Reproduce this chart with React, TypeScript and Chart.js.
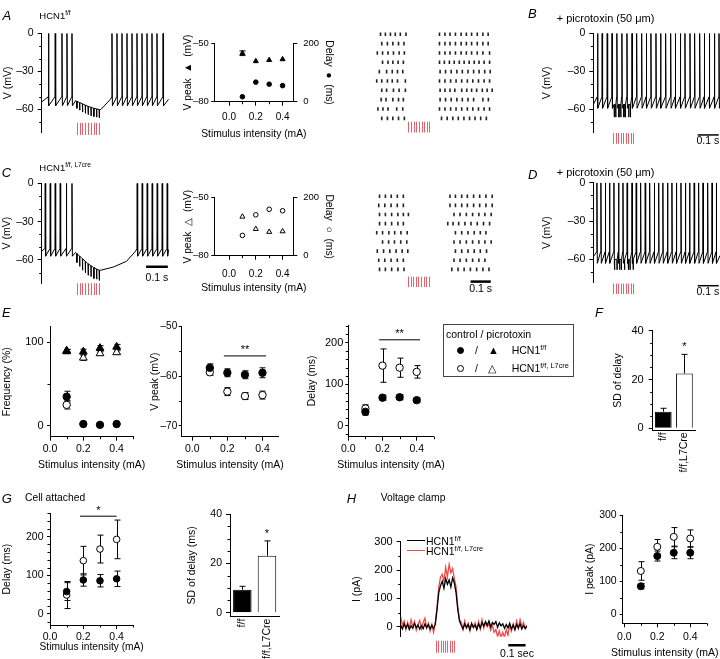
import React, { useEffect, useRef } from "react";
import { Chart, registerables } from "chart.js";

Chart.register(...registerables);

const FONT = "'Liberation Sans', Arial, Helvetica, sans-serif";
const FS = 10.5;
Chart.defaults.font.family = FONT;
Chart.defaults.font.size = FS;
Chart.defaults.color = "#000";

// ======================= DATA =======================
const STIM_I = [0.1, 0.2, 0.3, 0.4]; // stimulus intensity (mA)
const X_MAJOR = [0, 0.2, 0.4];
const X_MINOR = [0.1, 0.3, 0.5];

// --- A: HCN1 f/f current-clamp trace (ms, mV)
const A_PRE = [30, 61, 92, 115, 138];
const A_POST = [322, 345, 368, 391, 414, 437, 460, 483, 506, 529, 557];
const A_PULSE = [161, 174, 187, 200, 213, 226, 239, 252, 264];
const A_PULSE_BASE = [-53.5, -54.5, -55.5, -56.5, -57.5, -58.2, -59, -59.5, -60];
const A_PULSE_TIP = [-59, -60.5, -62, -63, -64, -65, -65.5, -66, -66.5];
const A_KNOT_T = [0, 156, 272, 316, 583];
const A_KNOT_V = [-54, -53, -60, -52, -52];

// --- C: HCN1 f/f, L7cre trace
const C_PRE = [15, 38, 61, 84, 112, 138];
const C_POST = [438, 461, 484, 507, 530, 553, 576];
const C_PULSE = [161, 174, 187, 200, 213, 226, 239, 252, 264];
const C_PULSE_BASE = [-55, -57, -59, -61, -63, -64.5, -66, -67, -68];
const C_PULSE_TIP = [-62, -65, -68, -70, -72, -73, -74.5, -75, -76];
const C_KNOT_T = [0, 156, 272, 330, 390, 432, 583];
const C_KNOT_V = [-53, -54, -68, -65.5, -61, -53, -52];

// --- B / D: + picrotoxin traces
const B_SPIKES = [19, 41, 65, 88, 111, 135, 159, 183, 205, 229, 251, 273, 297, 319, 343, 367, 389, 413, 435, 459, 481, 505, 527, 551, 575, 597];
const B_PULSE = [99, 106, 121, 130, 145, 152, 168, 176];
const B_KNOT_T = [0, 603];
const B_KNOT_V = [-56, -55];
const D_SPIKES = [16, 35, 56, 76, 97, 119, 140, 160, 183, 203, 224, 246, 267, 289, 310, 330, 352, 373, 394, 416, 437, 457, 479, 500, 521, 543, 564, 584];
const D_PULSE = [101, 112, 125, 133, 148, 166, 174, 189];
const D_KNOT_T = [0, 603];
const D_KNOT_V = [-58, -57];
const PTX_STIM = [95, 107, 119, 131, 143, 155, 167, 179, 190];

// --- rasters (spike times in ms per trial)
const RA_ROWS = [
  [74, 98, 123, 147, 172, 200, 366, 393, 418, 445, 473, 499, 525, 553, 581, 607],
  [80, 108, 135, 163, 190, 366, 393, 418, 445, 473, 499, 525, 553, 581, 607],
  [58, 84, 111, 138, 166, 192, 366, 393, 418, 445, 473, 499, 525, 553, 581, 614],
  [84, 111, 135, 161, 187, 366, 390, 415, 439, 464, 488, 513, 538, 562, 587, 614],
  [68, 104, 132, 158, 184, 369, 396, 424, 452, 479, 507, 535, 562, 590, 617],
  [55, 80, 108, 132, 158, 197, 366, 393, 421, 448, 476, 504, 531, 559, 587, 614],
  [80, 104, 138, 166, 197, 369, 393, 418, 442, 476, 501, 525, 550, 578, 602, 627],
  [77, 101, 135, 163, 187, 369, 396, 424, 452, 479, 507, 535, 581, 608],
  [61, 86, 111, 154, 184, 366, 393, 421, 448, 476, 504, 531, 559, 587, 614],
  [80, 108, 135, 163, 192, 376, 404, 432, 459, 487, 515, 542, 570, 598],
];
const RC_ROWS = [
  [69, 98, 127, 157, 187, 418, 445, 476, 504, 535, 565, 596, 627],
  [65, 95, 126, 157, 187, 418, 445, 476, 504, 535, 565, 596, 627],
  [69, 98, 129, 160, 187, 212, 438, 468, 499, 530, 561, 591, 622],
  [69, 98, 129, 160, 187, 407, 433, 461, 492, 522, 553, 584, 614],
  [55, 84, 115, 144, 175, 206, 445, 476, 507, 538, 568, 596],
  [84, 114, 143, 174, 204, 438, 468, 499, 530, 561, 591, 622],
  [58, 89, 120, 151, 181, 209, 445, 476, 507, 538, 568, 599],
  [65, 95, 126, 157, 187, 438, 468, 499, 530, 561, 591],
  [69, 98, 129, 160, 190, 427, 458, 488, 519, 550, 581, 611],
];
const RA_STIM = [212, 225, 238, 251, 264, 277, 290, 303, 315];
const RC_STIM = [210, 223, 236, 249, 262, 275, 288, 301, 314];

// --- A / C small scatter
const A_VPEAK = [-55.1, -59.2, -58.6, -58.2];
const A_VPEAK_ERR = [1.2, 0, 0, 0];
const A_DELAY = [17, 67, 60, 55];
const C_VPEAK = [-59.8, -66.2, -67.7, -67.4];
const C_DELAY = [70, 141, 160, 155];

// --- E
const E_FREQ_WT_CTRL = [34.8, 2, 1, 2];
const E_FREQ_WT_CTRL_ERR = [6.5, 0, 0, 0];
const E_FREQ_WT_PTX = [89, 88.7, 93, 94.5];
const E_FREQ_WT_PTX_ERR = [2.5, 3, 3, 3];
const E_FREQ_KO_CTRL_X = [0.1];
const E_FREQ_KO_CTRL = [25];
const E_FREQ_KO_CTRL_ERR = [5];
const E_FREQ_KO_PTX = [90, 81.4, 86.6, 87.8];
const E_FREQ_KO_PTX_ERR = [1.5, 3, 2, 2];
const E_VPEAK_WT = [-58.3, -59.3, -59.7, -59.3];
const E_VPEAK_WT_ERR = [0.8, 0.8, 0.8, 1.0];
const E_VPEAK_KO = [-59.2, -63.1, -64.0, -63.8];
const E_VPEAK_KO_ERR = [0.6, 0.8, 0.7, 0.8];
const E_DELAY_WT = [34, 68, 69, 62];
const E_DELAY_WT_ERR = [8, 6, 6, 5];
const E_DELAY_KO = [42, 145, 140, 130];
const E_DELAY_KO_ERR = [9, 40, 23, 15];

// --- F / G bars
const GROUPS = ["f/f", "f/f,L7Cre"];
const F_SD = [6.8, 22.5];
const F_SD_ERR = [1.4, 7.8];
const G_DELAY_WT = [58, 88, 86, 91];
const G_DELAY_WT_ERR = [23, 16, 16, 20];
const G_DELAY_KO = [49, 138, 168, 193];
const G_DELAY_KO_ERR = [35, 37, 36, 50];
const G_SD = [9.3, 23.1];
const G_SD_ERR = [1.4, 6];

// --- H voltage clamp (10 ms sampling, pA)
const H_DT = 10;
const H_BLACK = [5, -8, 10, -5, 8, -10, 3, -6, 12, -4, 6, -9, 4, -7, 10, -3, 7, -8, 5, -6, 8,
  60, 120, 145, 160, 135, 170, 150, 165, 140, 172, 155, 120, 60, 20,
  5, -8, 10, -4, 8, -10, 12, -3, 6, -9, 10, -5, 15, 2, 18, 5, 20, 0, 15, 8, 18, -2, 14, 3, 10, -6, 8, -4, 12, -8, 6, -10, 8, -5, 10, -8, 4, -6, 2];
const H_RED = [35, 5, 20, -10, 15, -5, 25, 0, 18, -12, 10, 22, -8, 15, 30, -5, 12, -15, 8, -20, 15,
  70, 140, 175, 185, 160, 210, 175, 220, 190, 205, 170, 140, 70, 25,
  15, -10, 20, -5, 12, -15, 8, 0, 14, -10, 18, -8, 25, -5, 15, 0, 10, -12, 5, -20, -10, -35, -15, -40, -20, -38, -10, -30, 5, -15, 10, -10, 20, -5, 25, 0, 15, -8, 5];
const H_STIM = [205, 218, 231, 244, 257, 270, 283, 296, 309];
const H_IPEAK_WT = [85, 176, 186, 186];
const H_IPEAK_WT_ERR = [8, 15, 18, 18];
const H_IPEAK_KO = [131, 204, 234, 229];
const H_IPEAK_KO_ERR = [28, 22, 28, 26];

// ======================= HELPERS =======================
const STIM_RED = "#e8606a";
const TRACE_RED = "#f04848";
const neg = (v: number) => (v < 0 ? "\u2013" + Math.abs(v) : String(v));
const fx1 = (v: number) => v.toFixed(1);

type P = { x: number; y: number };
function spikeVerts(times: number[], thr: number, ahp: number): P[] {
  const out: P[] = [];
  times.forEach((t) => out.push({ x: t, y: thr }, { x: t + 1.2, y: 0 }, { x: t + 3.2, y: ahp }));
  return out;
}
function pulseVerts(times: number[], base: number | number[], tip: number | number[]): P[] {
  const out: P[] = [];
  times.forEach((t, i) => {
    const b = Array.isArray(base) ? base[i] : base;
    const p = Array.isArray(tip) ? tip[i] : tip;
    out.push({ x: t, y: b }, { x: t + 0.8, y: p }, { x: t + 1.8, y: b });
  });
  return out;
}
const knots = (ts: number[], vs: number[]): P[] => ts.map((x, i) => ({ x, y: vs[i] }));
const join = (...g: P[][]) => g.flat().sort((a, b) => a.x - b.x);

const TRACE_A = join(spikeVerts(A_PRE, -50, -57), pulseVerts(A_PULSE, A_PULSE_BASE, A_PULSE_TIP), knots(A_KNOT_T, A_KNOT_V), spikeVerts(A_POST, -50, -57));
const TRACE_C = join(spikeVerts(C_PRE, -51, -57), pulseVerts(C_PULSE, C_PULSE_BASE, C_PULSE_TIP), knots(C_KNOT_T, C_KNOT_V), spikeVerts(C_POST, -51, -57));
const TRACE_B = join(spikeVerts(B_SPIKES, -50, -59), pulseVerts(B_PULSE, -56, -66), knots(B_KNOT_T, B_KNOT_V));
const TRACE_D = join(spikeVerts(D_SPIKES, -54, -63), pulseVerts(D_PULSE, -60, -68), knots(D_KNOT_T, D_KNOT_V));

function frame(f: any) {
  const p = { l: 0, t: 14, r: 10, b: 8, ...(f.pad || {}) };
  const yW = f.yW || 0, y2W = f.y2W || 0, xH = f.xH || 0;
  const left = Math.floor(f.area.l - yW - p.l);
  const top = Math.floor(f.area.t - p.t);
  const right = Math.ceil(f.area.r + y2W + p.r);
  const bottom = Math.ceil(f.area.b + xH + p.b);
  return {
    box: { left, top, width: right - left, height: bottom - top },
    padding: { left: f.area.l - yW - left, top: f.area.t - top, right: right - f.area.r - y2W, bottom: bottom - f.area.b - xH },
  };
}

function lin(o: any): any {
  if (o.hidden) return { type: "linear", display: false, min: o.min, max: o.max, reverse: !!o.reverse };
  const major: number[] = o.major || [];
  const fmt = o.fmt || neg;
  return {
    type: "linear",
    position: o.pos,
    min: o.min,
    max: o.max,
    afterBuildTicks: (s: any) => { s.ticks = major.map((v) => ({ value: v })); },
    afterFit: (s: any) => {
      s.$title = o.title || "";
      s.$pos = o.pos;
      s.$ts = o.ts ?? FS;
      if (o.size != null) { if (o.pos === "bottom") s.height = o.size; else s.width = o.size; }
    },
    ticks: { color: "#000", font: { family: FONT, size: o.fs ?? FS }, padding: o.pad ?? 3, autoSkip: false, maxRotation: 0, minRotation: 0, callback: (v: any) => fmt(Number(v)) },
    grid: { display: true, drawOnChartArea: false, drawTicks: true, tickLength: o.tl ?? 4, tickWidth: 1, tickColor: "#000", color: "#000", lineWidth: 1 },
    border: { display: true, color: "#000", width: 1 },
    title: { display: false },
  };
}

function catAxis(size: number) {
  return {
    type: "category",
    position: "bottom",
    afterFit: (s: any) => { s.height = size; },
    grid: { display: false, drawTicks: false },
    border: { display: true, color: "#000", width: 1 },
    ticks: { minRotation: 90, maxRotation: 90, padding: 2, autoSkip: false, color: "#000", font: { family: FONT, size: FS } },
  };
}

function drawItems(chart: any, list: any[]) {
  const ctx = chart.ctx;
  list.forEach((it) => {
    const xs = chart.scales[it.xid || "x"];
    const ys = chart.scales[it.yid || "y"];
    const X = (v: number) => xs.getPixelForValue(v);
    const Y = (v: number) => ys.getPixelForValue(v);
    ctx.save();
    ctx.strokeStyle = it.color || "#000";
    ctx.fillStyle = it.color || "#000";
    ctx.lineWidth = it.w || 1;
    if (it.k === "err") {
      it.xs.forEach((x: number, i: number) => {
        const e = it.es[i];
        if (!e) return;
        const px = Math.round(X(x)) + 0.5;
        const y0 = Y(it.ys[i]);
        const yt = Y(it.ys[i] + e);
        const yb = it.up ? y0 : Y(it.ys[i] - e);
        const c = it.cap ?? 3;
        ctx.beginPath();
        ctx.moveTo(px, yb); ctx.lineTo(px, yt);
        ctx.moveTo(px - c, yt); ctx.lineTo(px + c, yt);
        if (!it.up) { ctx.moveTo(px - c, yb); ctx.lineTo(px + c, yb); }
        ctx.stroke();
      });
    } else if (it.k === "line") {
      ctx.beginPath();
      ctx.moveTo(X(it.x1), Y(it.y1));
      ctx.lineTo(X(it.x2), Y(it.y2));
      ctx.stroke();
    } else if (it.k === "vl") {
      ctx.beginPath();
      it.xs.forEach((x: number) => {
        const p = Math.round(X(x)) + 0.5;
        ctx.moveTo(p, Y(it.y1)); ctx.lineTo(p, Y(it.y2));
      });
      ctx.stroke();
    } else if (it.k === "text") {
      ctx.font = `${it.size || FS}px ${FONT}`;
      ctx.textAlign = it.align || "center";
      ctx.textBaseline = "middle";
      ctx.fillText(it.s, X(it.x), Y(it.y));
    }
    ctx.restore();
  });
}

function drawMinor(chart: any, list: any[]) {
  const ctx = chart.ctx;
  ctx.save();
  ctx.strokeStyle = "#000";
  ctx.lineWidth = 1;
  list.forEach((m) => {
    const s = chart.scales[m.id];
    const len = m.len ?? 2.5;
    m.values.forEach((v: number) => {
      const p = Math.round(s.getPixelForValue(v)) + 0.5;
      ctx.beginPath();
      if (m.side === "left") { ctx.moveTo(s.right - len, p); ctx.lineTo(s.right, p); }
      else if (m.side === "right") { ctx.moveTo(s.left, p); ctx.lineTo(s.left + len, p); }
      else { ctx.moveTo(p, s.top); ctx.lineTo(p, s.top + len); }
      ctx.stroke();
    });
  });
  ctx.restore();
}

// axis titles drawn without Chart.js' width compression
function drawTitles(chart: any) {
  const ctx = chart.ctx;
  const ca = chart.chartArea;
  Object.values(chart.scales).forEach((s: any) => {
    if (!s.$title) return;
    const ts = s.$ts || FS;
    const lh = ts * 1.2;
    ctx.save();
    ctx.fillStyle = "#000";
    ctx.font = `${ts}px ${FONT}`;
    ctx.textAlign = "center";
    ctx.textBaseline = "middle";
    if (s.$pos === "bottom") {
      ctx.fillText(s.$title, (ca.left + ca.right) / 2, s.bottom - lh / 2);
    } else if (s.$pos === "left") {
      ctx.translate(s.left + lh / 2, (ca.top + ca.bottom) / 2);
      ctx.rotate(-Math.PI / 2);
      ctx.fillText(s.$title, 0, 0);
    } else {
      ctx.translate(s.right - lh / 2, (ca.top + ca.bottom) / 2);
      ctx.rotate(Math.PI / 2);
      ctx.fillText(s.$title, 0, 0);
    }
    ctx.restore();
  });
}

function extras(items: any) {
  return {
    id: "extras",
    beforeDatasetsDraw(chart: any) { drawItems(chart, items.before || []); },
    afterDatasetsDraw(chart: any) { drawItems(chart, items.after || []); },
    afterDraw(chart: any) { drawMinor(chart, items.minor || []); drawTitles(chart); },
  };
}

function base(padding: any, scales: any) {
  return {
    responsive: false,
    animation: false,
    devicePixelRatio: 1,
    events: [],
    layout: { padding },
    plugins: { legend: { display: false }, tooltip: { enabled: false } },
    scales,
  };
}

const lineDs = (data: P[], color: string, w: number) => ({
  data, borderColor: color, borderWidth: w, pointRadius: 0, tension: 0, fill: false,
});

function mk(xs: number[], ys: number[], style: string, filled: boolean, r: number, yAxisID = "y") {
  const fill = filled ? "#000" : "#fff";
  return {
    data: xs.map((x, i) => ({ x, y: ys[i] })),
    yAxisID, showLine: false,
    pointStyle: style, pointRadius: r, pointHoverRadius: r,
    pointBackgroundColor: fill, pointBorderColor: "#000", pointBorderWidth: 1,
    backgroundColor: fill, borderColor: "#000", borderWidth: 1,
  };
}

const err = (xs: number[], ys: number[], es: number[], yid = "y", up = false) => ({ k: "err", xs, ys, es, yid, up, cap: 3 });

function traceCfg(p: any, o: any) {
  return {
    type: "line",
    data: { datasets: o.datasets },
    options: base(p, {
      x: lin({ hidden: true, min: 0, max: o.xMax }),
      y: lin({ pos: "left", min: o.yMin ?? -78, max: o.yMax ?? 0, major: o.major ?? [0, -30, -60], size: o.yW, title: o.title ?? "V (mV)", tl: 4, pad: 4, fs: o.fs ?? 10.5, ts: 10.5 }),
    }),
    plugins: [extras({ after: o.after || [], minor: [{ id: "y", side: "left", values: o.minor ?? [-10, -20, -40, -50, -70] }] })],
  };
}

function rasterPts(rows: number[][]) {
  const out: P[] = [];
  rows.forEach((r, i) => r.forEach((t) => out.push({ x: t, y: i + 1 })));
  return out;
}

function rasterCfg(p: any, rows: number[][], xMax: number, after: any[]) {
  return {
    type: "scatter",
    data: {
      datasets: [{
        data: rasterPts(rows), pointStyle: "line", pointRotation: 90, pointRadius: 1.8,
        pointBorderColor: "#222", pointBorderWidth: 1.6, pointBackgroundColor: "#222",
        borderColor: "#222", borderWidth: 1.6,
      }],
    },
    options: base(p, { x: lin({ hidden: true, min: 0, max: xMax }), y: lin({ hidden: true, min: 0.5, max: rows.length + 0.5, reverse: true }) }),
    plugins: [extras({ after })],
  };
}

function smallScatter(p: any, vpeak: number[], delay: number[], filled: boolean, vErr: number[] | null, titles: string[], xPad: number, xH: number) {
  return {
    type: "scatter",
    data: { datasets: [mk(STIM_I, vpeak, "triangle", filled, 2.9, "y"), mk(STIM_I, delay, "circle", filled, 2.3, "y2")] },
    options: base(p, {
      x: lin({ pos: "bottom", min: -0.11, max: 0.48, major: X_MAJOR, fmt: fx1, title: "Stimulus intensity (mA)", size: xH, tl: 4, pad: xPad, fs: 10, ts: 10.3 }),
      y: lin({ pos: "left", min: -80, max: -50, major: [-50, -80], title: titles[0], size: 32.6, tl: 3, pad: 2.5, fs: 9.5, ts: 10.3 }),
      y2: lin({ pos: "right", min: 0, max: 200, major: [0, 200], title: titles[1], size: 41.3, tl: 4, pad: 6, fs: 9.5, ts: 10.3 }),
    }),
    plugins: [extras({ before: vErr ? [err(STIM_I, vpeak, vErr, "y")] : [], minor: [{ id: "x", side: "bottom", values: [0.1, 0.3] }] })],
  };
}

const SPECS: any[] = [
  // ---------- A trace
  {
    frame: { area: { l: 41.7, t: 33.3, r: 170, b: 132.4 }, yW: 39.5, pad: { r: 2, b: 16 } },
    make: (p: any) => traceCfg(p, {
      datasets: [lineDs(TRACE_A, "#000", 1)], xMax: 590, yW: 39.5,
      after: [{ k: "vl", xs: A_PULSE, y1: -70.5, y2: -80, color: STIM_RED }],
    }),
  },
  // ---------- C trace
  {
    frame: { area: { l: 41.7, t: 183.3, r: 170, b: 283 }, yW: 40.7, pad: { r: 2, b: 16 } },
    make: (p: any) => traceCfg(p, {
      datasets: [lineDs(TRACE_C, "#000", 1)], xMax: 590, yW: 40.7,
      after: [
        { k: "vl", xs: C_PULSE, y1: -78.2, y2: -87.4, color: STIM_RED },
        { k: "line", x1: 480, y1: -65.3, x2: 580, y2: -65.3, w: 2.5 },
        { k: "text", x: 530, y: -74.5, s: "0.1 s" },
      ],
    }),
  },
  // ---------- B trace
  {
    frame: { area: { l: 593.3, t: 33.3, r: 720, b: 132.4 }, yW: 52.9, pad: { r: 0, b: 16 } },
    make: (p: any) => traceCfg(p, {
      datasets: [lineDs(TRACE_B, "#000", 1)], xMax: 603, yW: 52.9,
      after: [
        { k: "vl", xs: PTX_STIM, y1: -78.5, y2: -87, color: STIM_RED },
        { k: "line", x1: 497, y1: -80, x2: 597, y2: -80, w: 1.5 },
        { k: "text", x: 545, y: -85.2, s: "0.1 s" },
      ],
    }),
  },
  // ---------- D trace
  {
    frame: { area: { l: 593.3, t: 182.7, r: 720, b: 282.5 }, yW: 52.9, pad: { r: 0, b: 16 } },
    make: (p: any) => traceCfg(p, {
      datasets: [lineDs(TRACE_D, "#000", 1)], xMax: 603, yW: 52.9,
      after: [
        { k: "vl", xs: PTX_STIM, y1: -78.8, y2: -87, color: STIM_RED },
        { k: "line", x1: 497, y1: -80.5, x2: 597, y2: -80.5, w: 1.5 },
        { k: "text", x: 545, y: -85.6, s: "0.1 s" },
      ],
    }),
  },
  // ---------- A raster
  {
    frame: { area: { l: 360, t: 28.6, r: 520, b: 123 }, pad: { t: 4, r: 0, b: 14 } },
    make: (p: any) => rasterCfg(p, RA_ROWS, 737, [{ k: "vl", xs: RA_STIM, y1: 10.36, y2: 11.52, color: STIM_RED }]),
  },
  // ---------- C raster
  {
    frame: { area: { l: 360, t: 190.35, r: 520, b: 274 }, pad: { t: 4, r: 0, b: 22 } },
    make: (p: any) => rasterCfg(p, RC_ROWS, 737, [
      { k: "vl", xs: RC_STIM, y1: 9.79, y2: 10.93, color: STIM_RED },
      { k: "line", x1: 520, y1: 10.33, x2: 620, y2: 10.33, w: 2.5 },
      { k: "text", x: 570, y: 11.1, s: "0.1 s" },
    ]),
  },
  // ---------- A scatter
  {
    frame: { area: { l: 214.3, t: 43.3, r: 293.3, b: 101.7 }, yW: 32.6, y2W: 41.3, xH: 38.6, pad: { r: 3, b: 1 } },
    make: (p: any) => smallScatter(p, A_VPEAK, A_DELAY, true, A_VPEAK_ERR, ["V peak  \u25B2  (mV)", "Delay  \u25CF  (ms)"], 5.4, 38.6),
  },
  // ---------- C scatter
  {
    frame: { area: { l: 214.3, t: 197.7, r: 293.3, b: 255.7 }, yW: 32.6, y2W: 41.3, xH: 38.3, pad: { r: 3, b: 1 } },
    make: (p: any) => smallScatter(p, C_VPEAK, C_DELAY, false, null, ["V peak  \u25B3  (mV)", "Delay  \u25CB  (ms)"], 9, 38.3),
  },
  // ---------- E1 frequency
  {
    frame: { area: { l: 50, t: 326.7, r: 133.3, b: 436.7 }, yW: 49, xH: 34.6, pad: { r: 12, b: 1 } },
    make: (p: any) => ({
      type: "scatter",
      data: {
        datasets: [
          mk(STIM_I, E_FREQ_WT_PTX, "triangle", true, 4.5),
          mk(STIM_I, E_FREQ_KO_PTX, "triangle", false, 4.5),
          mk(STIM_I, E_FREQ_WT_CTRL, "circle", true, 3.7),
          mk(E_FREQ_KO_CTRL_X, E_FREQ_KO_CTRL, "circle", false, 3.7),
        ],
      },
      options: base(p, {
        x: lin({ pos: "bottom", min: 0, max: 0.5, major: X_MAJOR, fmt: fx1, title: "Stimulus intensity (mA)", size: 34.6, tl: 4, pad: 2 }),
        y: lin({ pos: "left", min: -13.2, max: 118.7, major: [0, 100], title: "Frequency (%)", size: 49, tl: 3, pad: 3.5, fs: 11 }),
      }),
      plugins: [extras({
        before: [err(STIM_I, E_FREQ_WT_PTX, E_FREQ_WT_PTX_ERR), err(STIM_I, E_FREQ_KO_PTX, E_FREQ_KO_PTX_ERR), err(STIM_I, E_FREQ_WT_CTRL, E_FREQ_WT_CTRL_ERR), err(E_FREQ_KO_CTRL_X, E_FREQ_KO_CTRL, E_FREQ_KO_CTRL_ERR)],
        minor: [{ id: "y", side: "left", values: [50] }, { id: "x", side: "bottom", values: X_MINOR }],
      })],
    }),
  },
  // ---------- E2 V peak
  {
    frame: { area: { l: 181.7, t: 326.7, r: 278.3, b: 436.7 }, yW: 32.8, xH: 34.6, pad: { r: 12, b: 1 } },
    make: (p: any) => ({
      type: "scatter",
      data: { datasets: [mk(STIM_I, E_VPEAK_WT, "circle", true, 3.7), mk(STIM_I, E_VPEAK_KO, "circle", false, 3.7)] },
      options: base(p, {
        x: lin({ pos: "bottom", min: -0.06, max: 0.49, major: X_MAJOR, fmt: fx1, title: "Stimulus intensity (mA)", size: 34.6, tl: 4, pad: 2 }),
        y: lin({ pos: "left", min: -72.2, max: -50, major: [-50, -60, -70], title: "V peak (mV)", size: 32.8, tl: 3, pad: 1.5, fs: 10 }),
      }),
      plugins: [extras({
        before: [err(STIM_I, E_VPEAK_WT, E_VPEAK_WT_ERR), err(STIM_I, E_VPEAK_KO, E_VPEAK_KO_ERR)],
        after: [{ k: "line", x1: 0.18, y1: -55.9, x2: 0.42, y2: -55.9 }, { k: "text", x: 0.3, y: -54.6, s: "**", size: 11 }],
        minor: [{ id: "y", side: "left", values: [-55, -65] }, { id: "x", side: "bottom", values: [0.1, 0.3] }],
      })],
    }),
  },
  // ---------- E3 delay
  {
    frame: { area: { l: 348.3, t: 325, r: 433.8, b: 436.7 }, yW: 42.9, xH: 34.6, pad: { r: 12, b: 1 } },
    make: (p: any) => ({
      type: "scatter",
      data: { datasets: [mk(STIM_I, E_DELAY_WT, "circle", true, 3.7), mk(STIM_I, E_DELAY_KO, "circle", false, 3.7)] },
      options: base(p, {
        x: lin({ pos: "bottom", min: 0, max: 0.5, major: X_MAJOR, fmt: fx1, title: "Stimulus intensity (mA)", size: 34.6, tl: 4, pad: 2 }),
        y: lin({ pos: "left", min: -25.7, max: 242.5, major: [0, 100, 200], title: "Delay (ms)", size: 42.9, tl: 3, pad: 2, fs: 11 }),
      }),
      plugins: [extras({
        before: [err(STIM_I, E_DELAY_WT, E_DELAY_WT_ERR), err(STIM_I, E_DELAY_KO, E_DELAY_KO_ERR)],
        after: [{ k: "line", x1: 0.18, y1: 207, x2: 0.42, y2: 207 }, { k: "text", x: 0.3, y: 221, s: "**", size: 11 }],
        minor: [{ id: "y", side: "left", values: [-20, 20, 40, 60, 80, 120, 140, 160, 180, 220, 240] }, { id: "x", side: "bottom", values: X_MINOR }],
      })],
    }),
  },
  // ---------- F bars
  {
    frame: { area: { l: 652.7, t: 330.7, r: 695, b: 430.3 }, yW: 40.7, xH: 50, pad: { r: 8, b: 1 } },
    make: (p: any) => ({
      type: "bar",
      data: { labels: GROUPS, datasets: [{ data: F_SD, backgroundColor: ["#000", "#fff"], borderColor: "#000", borderWidth: 1, barPercentage: 0.79, categoryPercentage: 1 }] },
      options: base(p, {
        x: catAxis(50),
        y: lin({ pos: "left", min: -0.82, max: 40, major: [0, 20, 40], title: "SD of delay", size: 40.7, tl: 4, pad: 5, fs: 11 }),
      }),
      plugins: [extras({
        after: [err([0, 1], F_SD, F_SD_ERR, "y", true), { k: "text", x: 1, y: 33.4, s: "*", size: 11 }],
        minor: [{ id: "y", side: "left", values: [5, 10, 15, 25, 30, 35] }],
      })],
    }),
  },
  // ---------- G1 delay (cell attached)
  {
    frame: { area: { l: 50, t: 513.3, r: 133.3, b: 625 }, yW: 49, xH: 28, pad: { r: 12, b: 1 } },
    make: (p: any) => ({
      type: "scatter",
      data: { datasets: [mk(STIM_I, G_DELAY_WT, "circle", true, 3.3), mk(STIM_I, G_DELAY_KO, "circle", false, 3.3)] },
      options: base(p, {
        x: lin({ pos: "bottom", min: 0, max: 0.5, major: X_MAJOR, fmt: fx1, title: "Stimulus intensity (mA)", size: 28, tl: 4, pad: 2, ts: 10.2 }),
        y: lin({ pos: "left", min: -28.5, max: 260.5, major: [0, 100, 200], title: "Delay (ms)", size: 49, tl: 3, pad: 3.5 }),
      }),
      plugins: [extras({
        before: [err(STIM_I, G_DELAY_WT, G_DELAY_WT_ERR), err(STIM_I, G_DELAY_KO, G_DELAY_KO_ERR)],
        after: [{ k: "line", x1: 0.18, y1: 253, x2: 0.4, y2: 253 }, { k: "text", x: 0.29, y: 266, s: "*", size: 11 }],
        minor: [{ id: "y", side: "left", values: [-20, 20, 40, 60, 80, 120, 140, 160, 180, 220, 240, 260] }, { id: "x", side: "bottom", values: X_MINOR }],
      })],
    }),
  },
  // ---------- G2 SD bars
  {
    frame: { area: { l: 230, t: 514, r: 279.3, b: 616.7 }, yW: 44.6, xH: 42, pad: { r: 6, b: 0 } },
    make: (p: any) => ({
      type: "bar",
      data: { labels: GROUPS, datasets: [{ data: G_SD, backgroundColor: ["#000", "#fff"], borderColor: "#000", borderWidth: 1, barPercentage: 0.75, categoryPercentage: 1 }] },
      options: base(p, {
        x: catAxis(42),
        y: lin({ pos: "left", min: -1.62, max: 40, major: [0, 20, 40], title: "SD of delay (ms)", size: 44.6, tl: 4, pad: 4 }),
      }),
      plugins: [extras({
        after: [err([0, 1], G_SD, G_SD_ERR, "y", true), { k: "text", x: 1, y: 32, s: "*", size: 11 }],
        minor: [{ id: "y", side: "left", values: [5, 10, 15, 25, 30, 35] }],
      })],
    }),
  },
  // ---------- H1 voltage clamp trace
  {
    frame: { area: { l: 400.7, t: 541.7, r: 527, b: 636.7 }, yW: 50, pad: { r: 14, b: 22 } },
    make: (p: any) => traceCfg(p, {
      datasets: [
        lineDs(H_BLACK.map((v, i) => ({ x: i * H_DT, y: v })), "#000", 1.3),
        lineDs(H_RED.map((v, i) => ({ x: i * H_DT, y: v })), TRACE_RED, 1.3),
      ],
      xMax: 730, yW: 50, yMin: -35.3, yMax: 300, major: [0, 100, 200, 300], title: "I (pA)", minor: [50, 150, 250], fs: 11,
      after: [
        { k: "vl", xs: H_STIM, y1: -49.5, y2: -91.8, color: STIM_RED },
        { k: "line", x1: 622, y1: -65.5, x2: 722, y2: -65.5, w: 2.5 },
        { k: "text", x: 672, y: -97.5, s: "0.1 sec" },
      ],
    }),
  },
  // ---------- H2 I peak
  {
    frame: { area: { l: 622.7, t: 515, r: 706.7, b: 623.3 }, yW: 39, xH: 35.7, pad: { r: 14, b: 0 } },
    make: (p: any) => ({
      type: "scatter",
      data: { datasets: [mk(STIM_I, H_IPEAK_WT, "circle", true, 3.5), mk(STIM_I, H_IPEAK_KO, "circle", false, 3.5)] },
      options: base(p, {
        x: lin({ pos: "bottom", min: -0.01, max: 0.5, major: X_MAJOR, fmt: fx1, title: "Stimulus intensity (mA)", size: 35.7, tl: 4, pad: 3.7 }),
        y: lin({ pos: "left", min: -27, max: 300, major: [0, 100, 200, 300], title: "I peak (pA)", size: 39, tl: 3, pad: 3 }),
      }),
      plugins: [extras({
        before: [err(STIM_I, H_IPEAK_WT, H_IPEAK_WT_ERR), err(STIM_I, H_IPEAK_KO, H_IPEAK_KO_ERR)],
        minor: [{ id: "y", side: "left", values: [50, 150, 250] }, { id: "x", side: "bottom", values: X_MINOR }],
      })],
    }),
  },
];

function ChartCanvas({ spec }: { spec: any }) {
  const ref = useRef<HTMLCanvasElement>(null);
  const f = frame(spec.frame);
  useEffect(() => {
    const ch = new Chart(ref.current as HTMLCanvasElement, spec.make(f.padding));
    return () => ch.destroy();
  }, []);
  return (
    <canvas
      ref={ref}
      width={f.box.width}
      height={f.box.height}
      style={{ position: "absolute", left: f.box.left, top: f.box.top, width: f.box.width, height: f.box.height }}
    />
  );
}

function Txt({ x, cy, size = 10, italic = false, color = "#000", children }: any) {
  return (
    <div style={{ position: "absolute", left: x, top: cy - size / 2, fontSize: size, lineHeight: 1, fontFamily: FONT, fontStyle: italic ? "italic" : "normal", whiteSpace: "nowrap", color }}>
      {children}
    </div>
  );
}
const Sup = ({ children }: any) => <span style={{ fontSize: "0.7em", position: "relative", top: "-0.55em" }}>{children}</span>;
const Dot = ({ cx, cy, filled }: any) => (
  <div style={{ position: "absolute", left: cx - 3.5, top: cy - 3.5, width: 7, height: 7, borderRadius: "50%", boxSizing: "border-box", border: "1px solid #000", background: filled ? "#000" : "#fff" }} />
);

export default function App() {
  return (
    <div style={{ position: "absolute", left: 0, top: 0, width: 720, height: 659, overflow: "hidden", background: "#fff", fontFamily: FONT }}>
      {SPECS.map((s, i) => <ChartCanvas key={i} spec={s} />)}

      {/* panel letters */}
      <Txt x={2.5} cy={15} size={13} italic>A</Txt>
      <Txt x={528} cy={13.7} size={13} italic>B</Txt>
      <Txt x={1.7} cy={172.5} size={13} italic>C</Txt>
      <Txt x={528} cy={174} size={13} italic>D</Txt>
      <Txt x={2} cy={312} size={13} italic>E</Txt>
      <Txt x={595} cy={312} size={13} italic>F</Txt>
      <Txt x={1.7} cy={498} size={13} italic>G</Txt>
      <Txt x={346.7} cy={498} size={13} italic>H</Txt>

      {/* sub-titles */}
      <Txt x={39.3} cy={15.5} size={9.5}>HCN1<Sup>f/f</Sup></Txt>
      <Txt x={39.3} cy={167.5} size={9.5}>HCN1<Sup>f/f, L7cre</Sup></Txt>
      <Txt x={556.7} cy={18} size={11}>+ picrotoxin (50 μm)</Txt>
      <Txt x={556.7} cy={172} size={11}>+ picrotoxin (50 μm)</Txt>
      <Txt x={25} cy={498.3} size={10.3}>Cell attached</Txt>
      <Txt x={380.7} cy={498.3} size={10.3}>Voltage clamp</Txt>

      {/* E legend */}
      <div style={{ position: "absolute", left: 442.7, top: 324.3, width: 131.6, height: 53, border: "1px solid #444", boxSizing: "border-box" }} />
      <Txt x={446} cy={334} size={10.5}>control / picrotoxin</Txt>
      <Dot cx={460} cy={350.5} filled />
      <Txt x={475} cy={350.5} size={10.5}>/</Txt>
      <Txt x={488} cy={350.5} size={11}>{"\u25B2"}</Txt>
      <Txt x={511.7} cy={350.5} size={10.5}>HCN1<Sup>f/f</Sup></Txt>
      <Dot cx={460} cy={368.5} filled={false} />
      <Txt x={475} cy={368.5} size={10.5}>/</Txt>
      <Txt x={488} cy={368.5} size={11}>{"\u25B3"}</Txt>
      <Txt x={511.7} cy={368.5} size={10.5}>HCN1<Sup>f/f, L7cre</Sup></Txt>

      {/* H inline legend */}
      <div style={{ position: "absolute", left: 406.7, top: 540, width: 18.3, height: 0, borderTop: "1.5px solid #000" }} />
      <Txt x={426} cy={541} size={10.5}>HCN1<Sup>f/f</Sup></Txt>
      <div style={{ position: "absolute", left: 406.7, top: 550.3, width: 18.3, height: 0, borderTop: "1.5px solid " + TRACE_RED }} />
      <Txt x={426} cy={551.5} size={10.5}>HCN1<Sup>f/f, L7cre</Sup></Txt>
    </div>
  );
}
